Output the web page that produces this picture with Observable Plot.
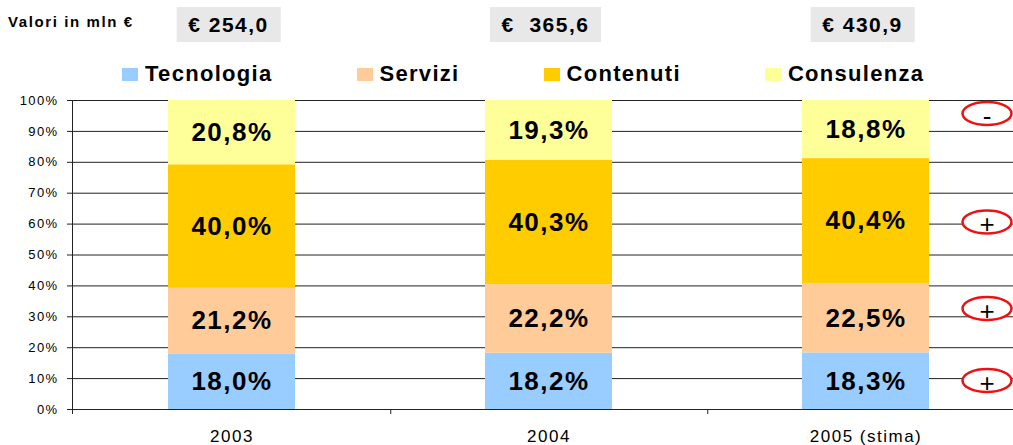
<!DOCTYPE html>
<html>
<head>
<meta charset="utf-8">
<script src="https://cdn.jsdelivr.net/npm/d3@7"></script>
<script src="https://cdn.jsdelivr.net/npm/@observablehq/plot@0.6"></script>
<style>
  body { margin: 0; background: #fff; font-family: "Liberation Sans", Arial, sans-serif; color: #000; }
  #wrap { position: relative; width: 1013px; height: 445px; overflow: hidden; background: #fff; }
  #header { position: relative; width: 1013px; height: 88px; }
  .title { position: absolute; left: 8px; top: 14px; font-weight: bold; font-size: 15px; line-height: 15px; letter-spacing: 1.6px; white-space: nowrap; }
  .box { position: absolute; top: 7px; height: 35px; line-height: 35px; background: #e8e8e8; font-weight: bold; font-size: 21px; letter-spacing: 1.5px; white-space: pre; transform: translateX(-50%); padding: 0 12px; }
  .legend { position: absolute; left: 122px; top: 63px; display: flex; gap: 84px; }
  .item { display: flex; align-items: center; height: 22px; }
  .sw { width: 16px; height: 13px; margin-right: 7px; }
  .lab { font-weight: bold; font-size: 22px; line-height: 22px; letter-spacing: 1.3px; white-space: nowrap; }
</style>
</head>
<body>
<div id="wrap">
  <div id="header"></div>
  <div id="chart"></div>
</div>
<script>
// ---- data ----
const years = ["2003", "2004", "2005 (stima)"];
const totals = ["€ 254,0", "€  365,6", "€ 430,9"];
const segments = ["Tecnologia", "Servizi", "Contenuti", "Consulenza"];
const colors = ["#99CCFF", "#FFCC99", "#FFCC00", "#FFFF99"];
const tecnologia = [18.0, 18.2, 18.3];
const servizi = [21.2, 22.2, 22.5];
const contenuti = [40.0, 40.3, 40.4];
const consulenza = [20.8, 19.3, 18.8];
const yTicks = [0, 10, 20, 30, 40, 50, 60, 70, 80, 90, 100];
const trendSigns = ["+", "+", "+", "-"];          // per segment
const trendLevels = [9.4, 32.7, 60.7, 95.8];       // % level where each sign sits
const headerTitle = "Valori in mln €";

// ---- build table ----
const series = [tecnologia, servizi, contenuti, consulenza];
const rows = segments.flatMap((s, si) => years.map((yr, i) => ({year: yr, segment: s, value: series[si][i]})));
const trend = segments.map((s, i) => ({segment: s, sign: trendSigns[i], level: trendLevels[i]}));
const fmt = v => v.toFixed(1).replace(".", ",") + "%";

const xRange = [72, 1024.5];
const padIn = 0.6, padOut = 0.3;
const step = (xRange[1] - xRange[0]) / (years.length - padIn + 2 * padOut);
const lastYear = years[years.length - 1];

const ellipse = {
  draw(ctx) {
    const rx = 24.5, ry = 11.5, k = 0.5523;
    ctx.moveTo(rx, 0);
    ctx.bezierCurveTo(rx, ry * k, rx * k, ry, 0, ry);
    ctx.bezierCurveTo(-rx * k, ry, -rx, ry * k, -rx, 0);
    ctx.bezierCurveTo(-rx, -ry * k, -rx * k, -ry, 0, -ry);
    ctx.bezierCurveTo(rx * k, -ry, rx, -ry * k, rx, 0);
    ctx.closePath();
  }
};

const chart = Plot.plot({
  width: 1013,
  height: 357,
  marginTop: 12,
  marginBottom: 36,
  marginLeft: 72,
  marginRight: 0,
  style: {fontFamily: "'Liberation Sans', Arial, sans-serif", fontSize: "13px", color: "#000", background: "#fff"},
  x: {domain: years, range: xRange, paddingInner: padIn, paddingOuter: padOut, tickSize: 0, tickPadding: 20, label: null},
  y: {domain: [0, 100], ticks: yTicks, tickFormat: d => d + "%", tickSize: 5, tickPadding: 9, label: null},
  color: {domain: segments, range: colors},
  marks: [
    Plot.ruleY(yTicks, {stroke: "#222", strokeWidth: 1}),
    Plot.barY(rows, {x: "year", y: "value", fill: "segment"}),
    Plot.text(rows, Plot.stackY({x: "year", y: "value", z: "segment", text: d => fmt(d.value), fontSize: 26, fontWeight: "bold", fill: "#000"})),
    Plot.ruleY([0], {stroke: "#222", strokeWidth: 1}),
    Plot.ruleX(years.slice(0, -1), {x: d => d, dx: step / 2, y1: 0, y2: 0, insetBottom: -5, stroke: "#222"}),
    Plot.dot(trend, {x: () => lastYear, y: "level", dx: 121, symbol: ellipse, r: 5, stroke: "#ee1111", strokeWidth: 2.5, fill: "#fff"}),
    Plot.text(trend, {x: () => lastYear, y: "level", dx: 121, dy: 3, text: "sign", fontSize: 26, fill: "#000"})
  ]
});

document.getElementById("chart").appendChild(chart);

// y-axis line from scale
const ys = chart.scale("y");
const xs = chart.scale("x");
d3.select(chart).append("line")
  .attr("x1", xRange[0] + 0.5).attr("x2", xRange[0] + 0.5)
  .attr("y1", ys.apply(100)).attr("y2", ys.apply(0) + 5)
  .attr("stroke", "#222").attr("stroke-width", 1);

// typography tweaks
const svg = d3.select(chart);
svg.selectAll('g[aria-label="text"]').filter(function() { return this.getAttribute("font-weight") === "bold"; })
  .style("letter-spacing", "1.5px");
svg.selectAll('g[aria-label="x-axis tick label"], g[aria-label="x-axis"] g.tick')
  .style("font-size", "17px").style("letter-spacing", "1.5px");
svg.selectAll('g[aria-label="x-axis tick label"] text, g[aria-label="x-axis"] text')
  .style("font-size", "17px").style("letter-spacing", "1.5px");
svg.selectAll('g[aria-label="y-axis tick label"] text, g[aria-label="y-axis"] text')
  .style("font-size", "13px").style("letter-spacing", "1.4px");
svg.selectAll('g[aria-label="y-axis tick"] path, g[aria-label="y-axis"] line').attr("stroke", "#222");

// header: title, totals boxes, legend
const header = d3.select("#header");
header.append("div").attr("class", "title").text(headerTitle);
years.forEach((yr, i) => {
  header.append("div").attr("class", "box")
    .style("left", (xs.apply(yr) + xs.bandwidth / 2 - 3) + "px")
    .text(totals[i]);
});
const leg = header.append("div").attr("class", "legend");
segments.forEach((s, i) => {
  const it = leg.append("div").attr("class", "item");
  it.append("div").attr("class", "sw").style("background", colors[i]);
  it.append("div").attr("class", "lab").text(s);
});
</script>
</body>
</html>
